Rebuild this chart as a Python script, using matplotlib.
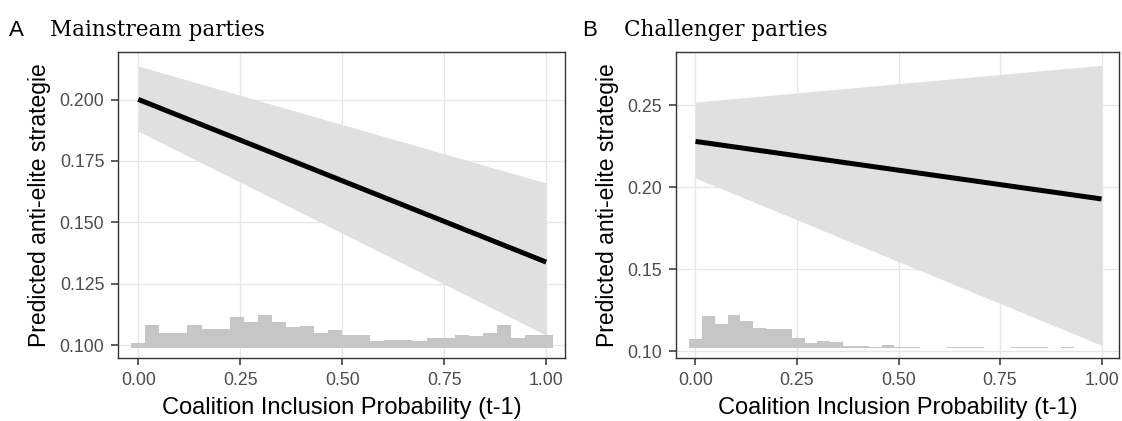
import numpy as np
import matplotlib
matplotlib.use("Agg")
import matplotlib.pyplot as plt

# fitted line + ribbon endpoints (x = 0 and x = 1)
x_fit = [0.0, 1.0]
a_fit = [0.2001, 0.1338]
a_lo = [0.1871, 0.1040]
a_hi = [0.2137, 0.1660]
b_fit = [0.2280, 0.1929]
b_lo = [0.2057, 0.1037]
b_hi = [0.2520, 0.2744]

# rug histograms of the x variable (relative counts)
hist_a = [15, 67, 43, 45, 67, 55, 57, 91, 78, 97, 76, 63, 66, 44, 53,
          39, 39, 21, 23, 23, 20, 29, 29, 39, 35, 45, 67, 29, 37, 37]
hist_b = [27, 95, 71, 97, 81, 58, 56, 56, 29, 15, 21, 17, 5, 5, 3,
          8, 2, 2, 0, 0, 2, 2, 2, 0, 0, 2, 3, 2, 0, 2]
bin_w_a = 1 / 29
bin_w_b = 0.0316

x_ticks = [0.0, 0.25, 0.5, 0.75, 1.0]
x_ticklabels = ["0.00", "0.25", "0.50", "0.75", "1.00"]
a_yticks = [0.100, 0.125, 0.150, 0.175, 0.200]
a_yticklabels = ["0.100", "0.125", "0.150", "0.175", "0.200"]
b_yticks = [0.10, 0.15, 0.20, 0.25]
b_yticklabels = ["0.10", "0.15", "0.20", "0.25"]

SANS = "Liberation Sans"
SERIF = "DejaVu Serif"

fig = plt.figure(figsize=(11.22, 4.21), dpi=100)
ax_a = fig.add_axes([0.1054, 0.1496, 0.3981, 0.7268])
ax_b = fig.add_axes([0.6025, 0.1496, 0.3948, 0.7268])


def draw_panel(ax, fit, lo, hi, hist, bin_w, yticks, yticklabels, xlim, ylim):
    ax.set_xlim(*xlim)
    ax.set_ylim(*ylim)
    ax.fill_between(x_fit, lo, hi, color="#e0e0e0", lw=0, zorder=2)
    ax.plot(x_fit, fit, color="black", lw=3.6, solid_capstyle="butt", zorder=3)
    # histogram sits in axes-fraction units at the bottom of the panel
    centers = np.arange(len(hist)) * bin_w
    heights = np.array(hist) * 0.001089
    ax.bar(centers, heights, width=bin_w, bottom=0.0337, color="#c6c6c6",
           lw=0, transform=ax.get_xaxis_transform(), zorder=4)

    ax.set_xticks(x_ticks)
    ax.set_xticklabels(x_ticklabels)
    ax.set_yticks(yticks)
    ax.set_yticklabels(yticklabels)
    ax.grid(True, color="#e6e6e6", lw=0.9, zorder=0)
    ax.set_axisbelow(True)
    for s in ax.spines.values():
        s.set_color("#333333")
        s.set_linewidth(1.0)
    ax.tick_params(length=5, width=1.1, color="#333333", pad=5,
                   labelsize=12.8, labelcolor="#4d4d4d")
    for lab in ax.get_xticklabels() + ax.get_yticklabels():
        lab.set_family(SANS)
    ax.set_xlabel("Coalition Inclusion Probability (t-1)", fontsize=17,
                  family=SANS, labelpad=6)
    ax.set_ylabel("Predicted anti-elite strategie", fontsize=16.5,
                  family=SANS, labelpad=6)


draw_panel(ax_a, a_fit, a_lo, a_hi, hist_a, bin_w_a, a_yticks, a_yticklabels,
           (-0.049, 1.046), (0.0947, 0.2194))
draw_panel(ax_b, b_fit, b_lo, b_hi, hist_b, bin_w_b, b_yticks, b_yticklabels,
           (-0.048, 1.043), (0.0959, 0.2825))

fig.text(9 / 1122, 1 - 36 / 421, "A", fontsize=16, family=SANS)
fig.text(50 / 1122, 1 - 36 / 421, "Mainstream parties", fontsize=15.5, family=SERIF)
fig.text(582 / 1122, 1 - 36 / 421, "B", fontsize=16, family=SANS)
fig.text(624 / 1122, 1 - 36 / 421, "Challenger parties", fontsize=15.5, family=SERIF)

fig.savefig("out.png", dpi=100)
